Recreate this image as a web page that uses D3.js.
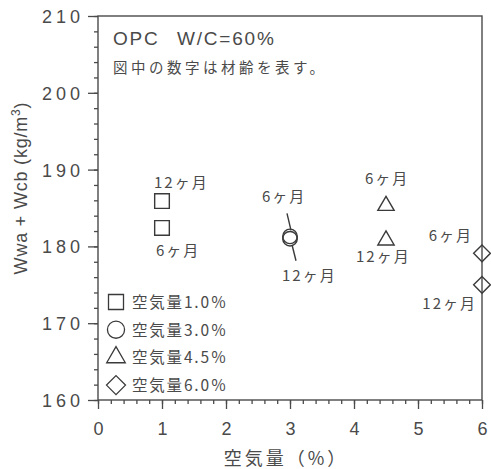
<!DOCTYPE html>
<html>
<head>
<meta charset="utf-8">
<script src="https://cdn.jsdelivr.net/npm/d3@7/dist/d3.min.js"></script>
<style>
  html, body { margin: 0; padding: 0; background: #fff; }
  svg { display: block; }
  text { fill: #4a4a4a; }
</style>
</head>
<body>
<svg id="chart" width="491" height="469"></svg>
<script>
// Air content of each mix (%)
const airContent = [1.0, 3.0, 4.5, 6.0];
// Wwa + Wcb (kg/m3) at 6 months and at 12 months
const water6m = [182.4, 181.3, 185.3, 179.1];
const water12m = [185.9, 181.0, 180.8, 175.0];
const legendLabels = ["空気量1.0％", "空気量3.0％", "空気量4.5％", "空気量6.0％"];
const ageLabels = ["6ヶ月", "12ヶ月"];
const xTicks = [0, 1, 2, 3, 4, 5, 6];
const yTicks = [160, 170, 180, 190, 200, 210];

const svg = d3.select("#chart");
const ink = "#4a4a4a";
const latin = "'Liberation Sans', Arial, sans-serif";
const cjk = "'Noto Sans CJK JP', 'Liberation Sans', sans-serif";

const plot = { left: 98, right: 482, top: 16, bottom: 400 };
const x = d3.scaleLinear().domain([0, 6]).range([plot.left, plot.right]);
const y = d3.scaleLinear().domain([160, 210]).range([plot.bottom, plot.top]);

// marker shapes, one per mix
const diamond = {
  draw(ctx, size) {
    const r = Math.sqrt(size / 2);
    ctx.moveTo(0, -r); ctx.lineTo(r, 0); ctx.lineTo(0, r); ctx.lineTo(-r, 0); ctx.closePath();
  }
};
const shapes = [d3.symbolSquare, d3.symbolCircle, d3.symbolTriangle, diamond];
const sizes = [215, 165, 115, 140];
const legendSizes = [225, 230, 150, 180];

// minor ticks
svg.append("g")
  .attr("transform", `translate(0,${plot.bottom})`)
  .call(d3.axisBottom(x).tickValues(d3.range(0, 6.001, 0.2)).tickSize(4).tickFormat(""))
  .call(g => g.select(".domain").remove());
svg.append("g")
  .attr("transform", `translate(${plot.left},0)`)
  .call(d3.axisLeft(y).tickValues(d3.range(160, 210.001, 2)).tickSize(4).tickFormat(""))
  .call(g => g.select(".domain").remove());

// major ticks and labels
const xAxis = svg.append("g")
  .attr("transform", `translate(0,${plot.bottom})`)
  .call(d3.axisBottom(x).tickValues(xTicks).tickSize(9).tickPadding(13).tickFormat(d3.format("d")));
xAxis.select(".domain").remove();
xAxis.selectAll("text").attr("font-family", latin).attr("font-size", 18).attr("fill", ink);

const yAxis = svg.append("g")
  .attr("transform", `translate(${plot.left},0)`)
  .call(d3.axisLeft(y).tickValues(yTicks).tickSize(10).tickPadding(4).tickFormat(d3.format("d")));
yAxis.select(".domain").remove();
yAxis.selectAll("text").attr("font-family", latin).attr("font-size", 18)
  .attr("letter-spacing", 4).attr("fill", ink).attr("dy", "0.36em");

svg.selectAll(".tick line").attr("stroke", ink).attr("stroke-width", 1.3);

// frame
svg.append("rect")
  .attr("x", plot.left).attr("y", plot.top)
  .attr("width", plot.right - plot.left).attr("height", plot.bottom - plot.top)
  .attr("fill", "none").attr("stroke", ink).attr("stroke-width", 1.4);

// axis titles
svg.append("text")
  .attr("x", 286).attr("y", 465)
  .attr("text-anchor", "middle")
  .attr("font-family", cjk).attr("font-size", 18).attr("letter-spacing", 3)
  .text("空気量（%）");

const yTitle = svg.append("text")
  .attr("transform", "translate(27,188) rotate(-90)")
  .attr("text-anchor", "middle")
  .attr("font-family", latin).attr("font-size", 18).attr("letter-spacing", 0.8);
yTitle.append("tspan").text("Wwa + Wcb  (kg/m");
yTitle.append("tspan").attr("dy", -7).attr("font-size", 12).text("3");
yTitle.append("tspan").attr("dy", 7).text(")");

// note inside the frame
const note = svg.append("text").attr("y", 45)
  .attr("font-family", latin).attr("font-size", 19).attr("letter-spacing", 1.8);
note.append("tspan").attr("x", 113).text("OPC");
note.append("tspan").attr("x", 177).text("W/C=60%");
svg.append("text")
  .attr("x", 113).attr("y", 73)
  .attr("font-family", cjk).attr("font-size", 14.5).attr("letter-spacing", 3.5)
  .text("図中の数字は材齢を表す。");

// data markers
const points = [];
airContent.forEach((a, i) => {
  points.push({ i, age: 0, a, v: water6m[i] });
  points.push({ i, age: 1, a, v: water12m[i] });
});
svg.append("g").selectAll("path")
  .data(points)
  .join("path")
  .attr("transform", d => `translate(${x(d.a)},${y(d.v)})`)
  .attr("d", d => d3.symbol(shapes[d.i], sizes[d.i])())
  .attr("fill", "none")
  .attr("stroke", "#3a3a3a")
  .attr("stroke-width", 1.4);

// age labels beside each marker: [dx, dy, anchor] per mix and age
const labelPlacement = [
  [[-6, 28, "start"], [-8, -13, "start"]],
  [[-28, -34, "start"], [-8, 42, "start"]],
  [[-21, -22, "start"], [-30, 22, "start"]],
  [[-9, -12, "end"], [-5, 24, "end"]]
];
svg.append("g").selectAll("text")
  .data(points)
  .join("text")
  .attr("x", d => x(d.a) + labelPlacement[d.i][d.age][0])
  .attr("y", d => y(d.v) + labelPlacement[d.i][d.age][1])
  .attr("text-anchor", d => labelPlacement[d.i][d.age][2])
  .attr("font-family", cjk).attr("font-size", 15).attr("letter-spacing", 2)
  .text(d => ageLabels[d.age]);

// leader lines for the overlapping 3.0% circles
const c6 = { x: x(airContent[1]), y: y(water6m[1]) };
const c12 = { x: x(airContent[1]), y: y(water12m[1]) };
const leaders = [
  [c6.x - 3, c6.y - 23, c6.x + 1, c6.y - 6],
  [c12.x + 2, c12.y + 6, c12.x + 6, c12.y + 22]
];
svg.append("g").selectAll("line")
  .data(leaders)
  .join("line")
  .attr("x1", d => d[0]).attr("y1", d => d[1])
  .attr("x2", d => d[2]).attr("y2", d => d[3])
  .attr("stroke", "#3a3a3a").attr("stroke-width", 1.4);

// legend
const legend = svg.append("g").selectAll("g")
  .data(legendLabels)
  .join("g")
  .attr("transform", (d, i) => `translate(116,${302 + i * 27.7})`);
legend.append("path")
  .attr("d", (d, i) => d3.symbol(shapes[i], legendSizes[i])())
  .attr("fill", "none").attr("stroke", "#3a3a3a").attr("stroke-width", 1.3);
legend.append("text")
  .attr("x", 16).attr("dy", "0.38em")
  .attr("font-family", cjk).attr("font-size", 15.5).attr("letter-spacing", 1.8)
  .text(d => d);
</script>
</body>
</html>
